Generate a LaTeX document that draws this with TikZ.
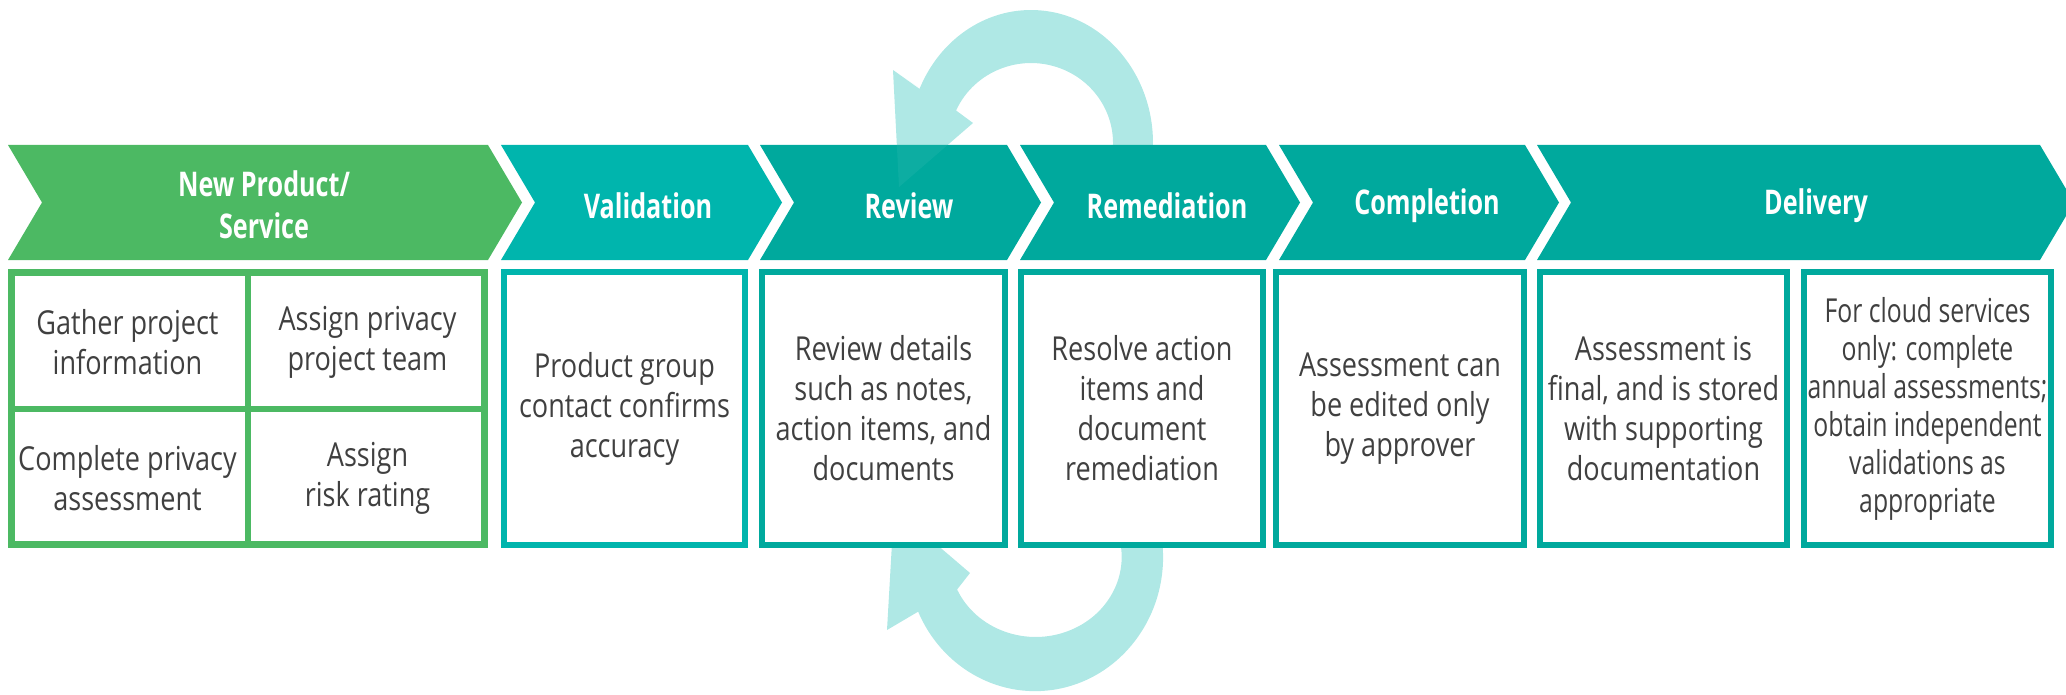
\documentclass[tikz,border=0pt]{standalone}
\usepackage{fontspec}
\setmainfont{Open Sans}[FakeStretch=0.82]
\newfontfamily\hdfont{Open Sans}[FakeStretch=0.74]
\newfontfamily\nrfont{Open Sans}[FakeStretch=0.75]
\definecolor{grn}{HTML}{4CB963}
\definecolor{tealA}{HTML}{00B5AD}
\definecolor{tealB}{HTML}{00A99D}
\definecolor{arrowcol}{HTML}{AFE8E5}
\definecolor{txtcol}{HTML}{404040}
\newcommand{\chevshape}[3]{\fill[#3] (#1,145) -- (#2,145) -- (#2+34,202.5) -- (#2,260) -- (#1,260) -- (#1+34,202.5) -- cycle;}
\begin{document}
\begin{tikzpicture}[x=1pt,y=-1pt,
  hdr/.style={text=white, font=\hdfont\bfseries\fontsize{34}{42}\selectfont, align=center, inner sep=0pt},
  txt/.style={text=txtcol, font=\fontsize{33}{40}\selectfont, align=center, inner sep=0pt},
  ntxt/.style={text=txtcol, font=\nrfont\fontsize{33}{38}\selectfont, align=center, inner sep=0pt},
  box/.style={draw=#1, line width=6pt, fill=white, minimum height=273pt, inner sep=0pt},
  divider/.style={draw=grn, line width=6pt}]
\useasboundingbox (0,0) rectangle (2066,695);

% loop arrows (behind)
\fill[arrowcol] (1152.5,154.6) arc[start angle=5, end angle=-156, x radius=122, y radius=133]
  -- (893,70) -- (899,187) -- (973,123) -- (956.1,110.5)
  arc[start angle=-156, end angle=5, x radius=82, y radius=80] -- cycle;
\fill[arrowcol] (1161.8,538.5) arc[start angle=-8, end angle=156, x radius=128, y radius=134]
  -- (887,630) -- (894,508) -- (970,573) -- (957.1,589.5)
  arc[start angle=156, end angle=-8, x radius=86, y radius=80] -- cycle;

% chevrons
\chevshape{8}{488}{grn}
\chevshape{501}{748}{tealA}
\chevshape{760}{1007}{tealB}
\chevshape{1020}{1266}{tealB}
\chevshape{1279}{1525}{tealB}
\chevshape{1537}{2040}{tealB}

% faint arrow head over the chevron
\fill[arrowcol, fill opacity=0.08] (893,70) -- (899,187) -- (973,123) -- cycle;

% headers
\node[hdr] (h1) at (264,205) {New Product/\\Service};
\node[hdr] (h2) at (648,206) {Validation};
\node[hdr] (h3) at (909,206) {Review};
\node[hdr] (h4) at (1167,206) {Remediation};
\node[hdr] (h5) at (1427,206) {Completion};
\node[hdr] (h6) at (1816,206) {Delivery};

% green grid box
\node[draw=grn, line width=7pt, fill=white, minimum width=473pt, minimum height=272pt, inner sep=0pt] (gbox) at (248,408.5) {};
\draw[divider] (gbox.north) -- (gbox.south);
\draw[divider] (gbox.west) -- (gbox.east);
\node[txt] (g1) at (127.5,342) {Gather project\\information};
\node[txt] (g2) at (367.5,342) {Assign privacy\\project team};
\node[txt] (g3) at (127.5,478) {Complete privacy\\assessment};
\node[txt] (g4) at (367.5,478) {Assign\\risk rating};

% other boxes
\node[box=tealA, minimum width=241pt, txt] (b2) at (624.5,408.5) {Product group\\contact confirms\\accuracy};
\node[box=tealB, minimum width=243pt, txt] (b3) at (883.5,408.5) {Review details\\such as notes,\\action items, and\\documents};
\node[box=tealB, minimum width=242pt, txt] (b4) at (1142,408.5) {Resolve action\\items and\\document\\remediation};
\node[box=tealB, minimum width=248pt, txt] (b5) at (1400,408.5) {Assessment can\\be edited only\\by approver};
\node[box=tealB, minimum width=247pt, txt] (b6) at (1663.5,408.5) {Assessment is\\final, and is stored\\with supporting\\documentation};
\node[box=tealB, minimum width=247pt, ntxt] (b7) at (1927.5,408.5) {For cloud services\\only: complete\\annual assessments;\\obtain independent\\validations as\\appropriate};
\end{tikzpicture}
\end{document}
